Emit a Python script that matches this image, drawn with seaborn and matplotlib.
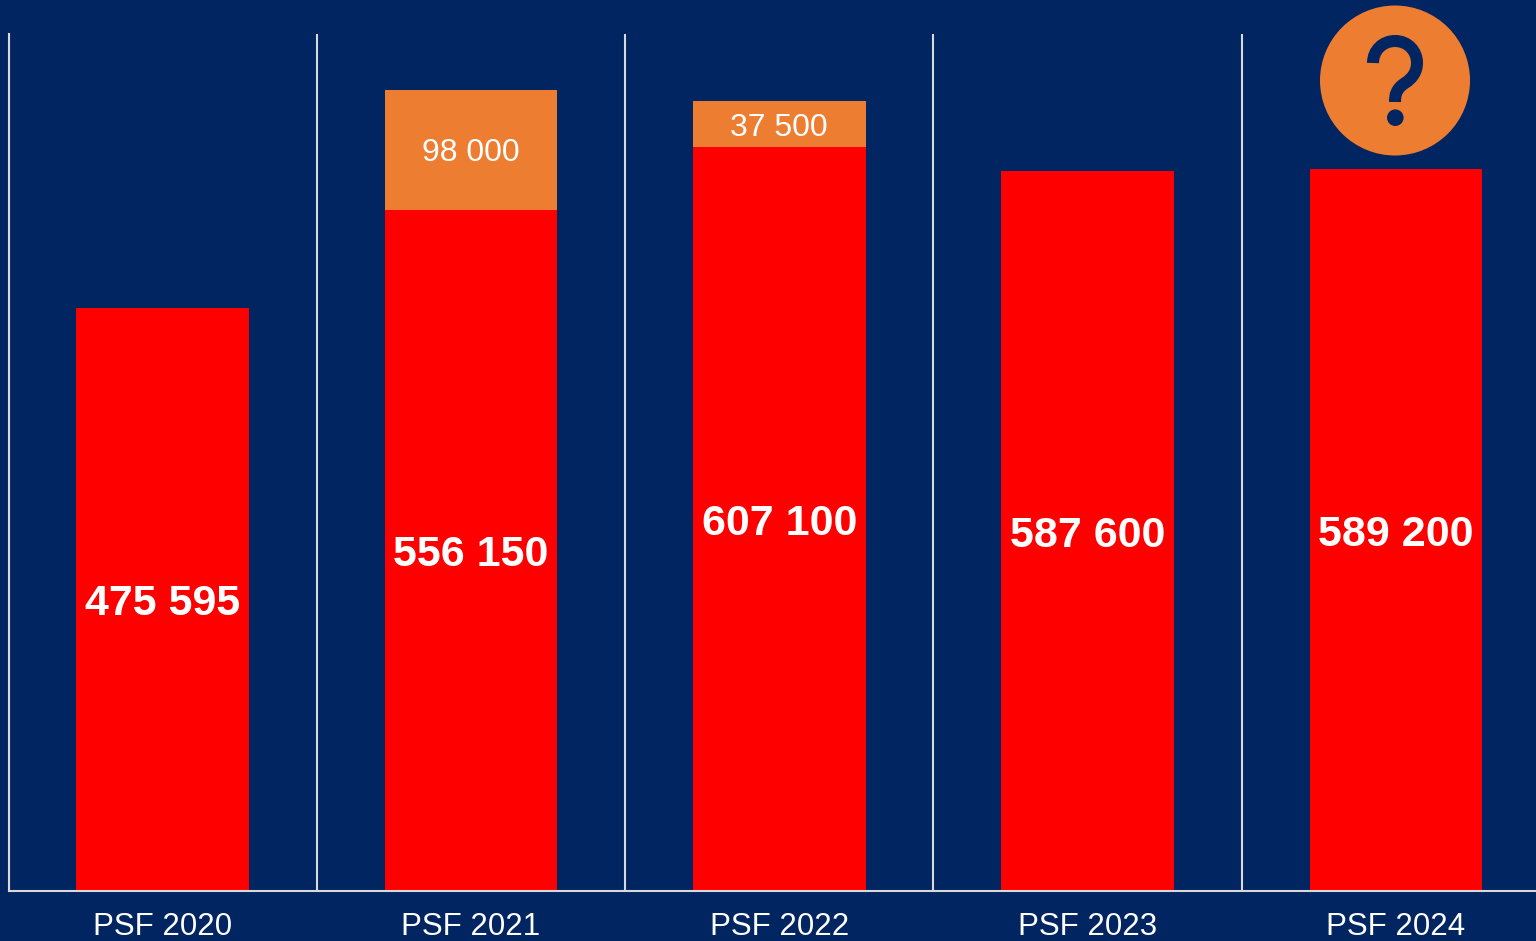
import numpy as np
import matplotlib
matplotlib.use("Agg")
import matplotlib.pyplot as plt
from matplotlib.patches import Circle, PathPatch
from matplotlib.path import Path
from matplotlib.transforms import IdentityTransform
import seaborn as sns

categories = ["PSF 2020", "PSF 2021", "PSF 2022", "PSF 2023", "PSF 2024"]
base_values = [475595, 556150, 607100, 587600, 589200]
extra_values = [np.nan, 98000, 37500, np.nan, np.nan]
base_labels = ["475 595", "556 150", "607 100", "587 600", "589 200"]
extra_labels = ["", "98 000", "37 500", "", ""]

NAVY, RED, ORANGE, LINE = "#002561", "#FF0000", "#ED7D31", "#D9D9D9"
W, H = 1536, 941

sns.set_theme(style="white")
plt.rcParams["font.family"] = ["Liberation Sans", "DejaVu Sans"]

fig = plt.figure(figsize=(W / 100, H / 100), dpi=100, facecolor=NAVY)
left, right, bottom, top = 8.5, 1550, 891, 33.5
ax = fig.add_axes([left / W, (H - bottom) / H, (right - left) / W, (bottom - top) / H])
ax.set_facecolor(NAVY)

# Stack: the total is drawn first, the base covers its lower part
totals = np.array(base_values, dtype=float) + np.array(extra_values, dtype=float)
sns.barplot(x=categories, y=totals, color=ORANGE, width=0.56, saturation=1, ax=ax, zorder=3, linewidth=0)
sns.barplot(x=categories, y=base_values, color=RED, width=0.56, saturation=1, ax=ax, zorder=3.5, linewidth=0)

ax.set_xlim(-0.5, 4.5)
ax.set_ylim(0, 700000)
ax.set_yticks([])
ax.set_xticks(range(5), categories)
ax.set_xticks(np.arange(-0.5, 5, 1), minor=True)
ax.tick_params(axis="x", which="major", length=0, pad=15, labelsize=22.5, labelcolor="white")
ax.tick_params(axis="x", which="minor", length=0)
ax.grid(True, axis="x", which="minor", color=LINE, linewidth=1.5, zorder=1)
ax.grid(False, axis="x", which="major")
for s in ["top", "right"]:
    ax.spines[s].set_visible(False)
for s in ["left", "bottom"]:
    ax.spines[s].set_color(LINE)
    ax.spines[s].set_linewidth(1.5)
    ax.spines[s].set_zorder(4)

for i, (b, lab) in enumerate(zip(base_values, base_labels)):
    ax.text(i, b / 2, lab, ha="center", va="center_baseline", color="white", fontsize=31, fontweight="bold", zorder=5)
for i, (b, e, lab) in enumerate(zip(base_values, extra_values, extra_labels)):
    if lab:
        ax.text(i, b + e / 2, lab, ha="center", va="center_baseline", color="white", fontsize=23, zorder=5)

# Question-mark badge (pixel coordinates, y flipped)
def px(x, y):
    return (x, H - y)

badge = Circle(px(1395, 80.5), 75, transform=IdentityTransform(), facecolor=ORANGE, edgecolor="none", zorder=6)
fig.add_artist(badge)
verts = [px(1373, 63),
         px(1373, 50), px(1383, 41), px(1395, 41),
         px(1408, 41), px(1417, 51), px(1417, 63),
         px(1417, 71), px(1413, 78), px(1405, 83),
         px(1396, 89), px(1395, 95), px(1395, 102)]
codes = [Path.MOVETO] + [Path.CURVE4] * 12
mark = PathPatch(Path(verts, codes), transform=IdentityTransform(), facecolor="none", edgecolor=NAVY,
                 linewidth=12 * 72 / 100, capstyle="butt", zorder=7)
fig.add_artist(mark)
dot = Circle(px(1395.3, 117.7), 8.3, transform=IdentityTransform(), facecolor=NAVY, edgecolor="none", zorder=7)
fig.add_artist(dot)

fig.savefig("out.png", dpi=100, facecolor=NAVY)
